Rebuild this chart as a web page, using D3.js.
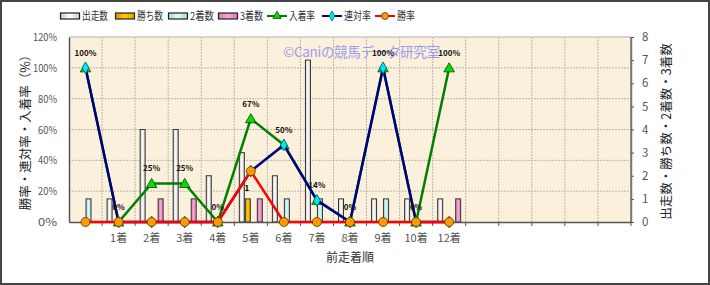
<!DOCTYPE html>
<html>
<head>
<meta charset="utf-8">
<script src="https://cdn.jsdelivr.net/npm/d3@7"></script>
<style>
  body { margin: 0; background: #fff; }
  text { font-family: "Noto Sans CJK JP", "DejaVu Sans", sans-serif; }
</style>
</head>
<body>
<script>
const width = 710;
const height = 285;

// data
const categories = ['', '1着', '2着', '3着', '4着', '5着', '6着', '7着', '8着', '9着', '10着', '12着'];
const emptySlots = ['e1', 'e2', 'e3', 'e4', 'e5'];
const starts = [0, 1, 4, 4, 2, 3, 2, 7, 1, 1, 1, 1];
const wins = [0, 0, 0, 0, 0, 1, 0, 0, 0, 0, 0, 0];
const seconds = [1, 0, 0, 0, 0, 0, 1, 1, 0, 1, 0, 0];
const thirds = [0, 0, 1, 1, 0, 1, 0, 0, 0, 0, 0, 1];
const winRate = [0, 0, 0, 0, 0, 33, 0, 0, 0, 0, 0, 0];
const rentaiRate = [100, 0, 0, 0, 0, 33, 50, 14, 0, 100, 0, 0];
const placeRate = [100, 0, 25, 25, 0, 67, 50, 14, 0, 100, 0, 100];
const leftTicks = [0, 20, 40, 60, 80, 100, 120];
const rightTicks = [0, 1, 2, 3, 4, 5, 6, 7, 8];

const plot = { left: 69, right: 631, top: 37, bottom: 222 };

const svg = d3.select('body')
              .append('svg')
              .attr('width', width)
              .attr('height', height);

const defs = svg.append('defs');
function barGradient(id, edge, mid) {
  const g = defs.append('linearGradient').attr('id', id)
                .attr('x1', '0%').attr('x2', '100%');
  g.append('stop').attr('offset', '0%').attr('stop-color', edge);
  g.append('stop').attr('offset', '50%').attr('stop-color', mid);
  g.append('stop').attr('offset', '100%').attr('stop-color', edge);
}
barGradient('gStart', '#c8c8c8', '#ffffff');
barGradient('gWin', '#d89a00', '#ffcc00');
barGradient('gSecond', '#9ed8d8', '#dffafa');
barGradient('gThird', '#d878b0', '#f8a8d8');

// outer frame
svg.append('rect')
   .attr('x', 1).attr('y', 1)
   .attr('width', width - 2).attr('height', height - 2)
   .attr('fill', '#fff')
   .attr('stroke', '#444')
   .attr('stroke-width', 2);

const x = d3.scaleBand()
            .domain(categories.concat(emptySlots))
            .range([plot.left, plot.right]);

const yRate = d3.scaleLinear().domain([0, 120]).range([plot.bottom, plot.top]);
const yCount = d3.scaleLinear().domain([0, 8]).range([plot.bottom, plot.top]);

const seriesKeys = ['start', 'win', 'second', 'third'];
const xInner = d3.scaleBand().domain(seriesKeys).range([-12, 12]);

// plot background
svg.append('rect')
   .attr('x', plot.left).attr('y', plot.top)
   .attr('width', plot.right - plot.left)
   .attr('height', plot.bottom - plot.top)
   .attr('fill', '#faf0db');

// grid
svg.append('g')
   .selectAll('line')
   .data(leftTicks.slice(1, -1))
   .join('line')
   .attr('x1', plot.left).attr('x2', plot.right)
   .attr('y1', d => yRate(d)).attr('y2', d => yRate(d))
   .attr('stroke', '#bdb5a8')
   .attr('stroke-dasharray', '2,1');

const bounds = x.domain().slice(1).map(d => x(d));
svg.append('g')
   .selectAll('line')
   .data(bounds)
   .join('line')
   .attr('x1', d => d).attr('x2', d => d)
   .attr('y1', plot.top).attr('y2', plot.bottom)
   .attr('stroke', '#bdb5a8')
   .attr('stroke-dasharray', '2,1');

// plot border
svg.append('line')
   .attr('x1', plot.left).attr('x2', plot.right)
   .attr('y1', plot.top).attr('y2', plot.top)
   .attr('stroke', '#c8c8c8').attr('stroke-width', 1.5);
svg.append('line')
   .attr('x1', plot.right).attr('x2', plot.right)
   .attr('y1', plot.top).attr('y2', plot.bottom)
   .attr('stroke', '#777').attr('stroke-width', 1.5);

// watermark
svg.append('text')
   .attr('x', 283).attr('y', 57)
   .attr('font-size', 13.5)
   .attr('fill', '#9a9cf0')
   .attr('textLength', 157)
   .text('©Caniの競馬データ研究室');

// bars
const barData = [];
categories.forEach((c, i) => {
  barData.push({ cat: c, key: 'start', v: starts[i], fill: 'url(#gStart)' });
  barData.push({ cat: c, key: 'win', v: wins[i], fill: 'url(#gWin)' });
  barData.push({ cat: c, key: 'second', v: seconds[i], fill: 'url(#gSecond)' });
  barData.push({ cat: c, key: 'third', v: thirds[i], fill: 'url(#gThird)' });
});

svg.append('g')
   .selectAll('rect')
   .data(barData.filter(d => d.v > 0))
   .join('rect')
   .attr('x', d => x(d.cat) + x.bandwidth() / 2 + xInner(d.key) + 0.5)
   .attr('y', d => yCount(d.v))
   .attr('width', xInner.bandwidth() - 1)
   .attr('height', d => yCount(0) - yCount(d.v))
   .attr('fill', d => d.fill)
   .attr('stroke', '#333')
   .attr('stroke-width', 1);

// win count labels
svg.append('g')
   .selectAll('text')
   .data(barData.filter(d => d.key === 'win' && d.v > 0))
   .join('text')
   .attr('x', d => x(d.cat) + x.bandwidth() / 2 + xInner(d.key) + xInner.bandwidth() / 2 - 1)
   .attr('y', d => yCount(d.v) - 8)
   .attr('text-anchor', 'middle')
   .attr('font-family', 'DejaVu Sans')
   .attr('font-weight', 'bold')
   .attr('font-size', 8)
   .text(d => d.v);

// axes
const leftAxis = svg.append('g')
   .attr('transform', `translate(${plot.left},0)`)
   .call(d3.axisLeft(yRate).tickValues(leftTicks).tickSize(0).tickPadding(12).tickFormat(d => d + '%'));
leftAxis.select('.domain').attr('stroke', '#555').attr('stroke-width', 1.5);

const rightAxis = svg.append('g')
   .attr('transform', `translate(${plot.right},0)`)
   .call(d3.axisRight(yCount).tickValues(rightTicks).tickSize(3).tickSizeOuter(0).tickPadding(8));
rightAxis.select('.domain').attr('stroke', '#777').attr('stroke-width', 1.5);
rightAxis.selectAll('.tick line').attr('stroke', '#555');

const bottomAxis = svg.append('g')
   .attr('transform', `translate(0,${plot.bottom})`)
   .call(d3.axisBottom(x).tickSize(0).tickPadding(12).tickFormat(d => emptySlots.includes(d) ? '' : d));
bottomAxis.select('.domain').attr('stroke', '#555').attr('stroke-width', 1.5);

svg.append('g')
   .selectAll('line')
   .data(bounds.concat([plot.right]))
   .join('line')
   .attr('x1', d => d).attr('x2', d => d)
   .attr('y1', plot.bottom).attr('y2', plot.bottom + 4)
   .attr('stroke', '#555');

svg.selectAll('.tick text')
   .attr('font-family', '"Liberation Sans", "Noto Sans CJK JP", sans-serif')
   .attr('font-size', 11.5)
   .attr('fill', '#555');
leftAxis.selectAll('.tick text')
   .attr('font-size', 11)
   .attr('textLength', d => d >= 100 ? 24 : 19)
   .attr('lengthAdjust', 'spacingAndGlyphs');
bottomAxis.selectAll('.tick text')
   .attr('font-family', '"Noto Sans CJK JP", sans-serif')
   .attr('font-size', 11);

// axis titles
svg.append('text')
   .attr('transform', `translate(27,${(plot.top + plot.bottom) / 2}) rotate(-90)`)
   .attr('text-anchor', 'middle')
   .attr('dominant-baseline', 'middle')
   .attr('font-size', 12.5)
   .attr('fill', '#222')
   .text('勝率・連対率・入着率（%）');

svg.append('text')
   .attr('transform', `translate(668,${(plot.top + plot.bottom) / 2 + 2}) rotate(-90)`)
   .attr('text-anchor', 'middle')
   .attr('dominant-baseline', 'middle')
   .attr('font-size', 12.5)
   .attr('fill', '#222')
   .text('出走数・勝ち数・2着数・3着数');

svg.append('text')
   .attr('x', (plot.left + plot.right) / 2)
   .attr('y', 262)
   .attr('text-anchor', 'middle')
   .attr('font-size', 12)
   .attr('fill', '#333')
   .text('前走着順');

// lines
const cx = (d, i) => x(categories[i]) + x.bandwidth() / 2;
const lineGen = vals => d3.line()
                          .x((d, i) => cx(d, i))
                          .y(d => yRate(d))(vals);

const triangle = d3.symbol().type(d3.symbolTriangle).size(48);
const diamond = d3.symbol().type(d3.symbolDiamond).size(40);

svg.append('path')
   .attr('d', lineGen(placeRate))
   .attr('fill', 'none').attr('stroke', '#008000').attr('stroke-width', 2.5);
svg.append('g')
   .selectAll('path')
   .data(placeRate)
   .join('path')
   .attr('d', triangle)
   .attr('transform', (d, i) => `translate(${cx(d, i)},${yRate(d) + 1})`)
   .attr('fill', '#00dd00').attr('stroke', '#004400').attr('stroke-width', 0.8);

svg.append('path')
   .attr('d', lineGen(rentaiRate))
   .attr('fill', 'none').attr('stroke', '#000080').attr('stroke-width', 2.5);
svg.append('g')
   .selectAll('path')
   .data(rentaiRate)
   .join('path')
   .attr('d', diamond)
   .attr('transform', (d, i) => `translate(${cx(d, i)},${yRate(d)})`)
   .attr('fill', '#00e8f0').attr('stroke', '#006070').attr('stroke-width', 0.8);

svg.append('path')
   .attr('d', lineGen(winRate))
   .attr('fill', 'none').attr('stroke', '#ff0000').attr('stroke-width', 2.5);
svg.append('g')
   .selectAll('circle')
   .data(winRate)
   .join('circle')
   .attr('cx', (d, i) => cx(d, i))
   .attr('cy', d => yRate(d))
   .attr('r', 4.5)
   .attr('fill', '#ff9900').attr('stroke', '#553300').attr('stroke-width', 0.8);

// place rate labels
svg.append('g')
   .selectAll('text')
   .data(placeRate)
   .join('text')
   .attr('x', (d, i) => cx(d, i))
   .attr('y', d => yRate(d) - 12)
   .attr('text-anchor', 'middle')
   .attr('font-family', 'DejaVu Sans')
   .attr('font-weight', 'bold')
   .attr('font-size', 8)
   .attr('fill', '#111')
   .text(d => d + '%');

// legend
const legendItems = [
  { name: '出走数', type: 'bar', fill: 'url(#gStart)', x: 60, w: 26 },
  { name: '勝ち数', type: 'bar', fill: 'url(#gWin)', x: 115, w: 26 },
  { name: '2着数', type: 'bar', fill: 'url(#gSecond)', x: 168, w: 24 },
  { name: '3着数', type: 'bar', fill: 'url(#gThird)', x: 218, w: 23 },
  { name: '入着率', type: 'tri', color: '#008000', mark: '#00dd00', x: 267, w: 26 },
  { name: '連対率', type: 'dia', color: '#000080', mark: '#00e8f0', x: 322, w: 27 },
  { name: '勝率', type: 'dot', color: '#ff0000', mark: '#ff9900', x: 375, w: 18 }
];
const ly = 16;
const legend = svg.append('g')
   .selectAll('g')
   .data(legendItems)
   .join('g')
   .attr('transform', d => `translate(${d.x},${ly})`);

legend.filter(d => d.type === 'bar')
      .append('rect')
      .attr('x', 0.5).attr('y', -3)
      .attr('width', 19).attr('height', 6)
      .attr('fill', d => d.fill)
      .attr('stroke', '#222').attr('stroke-width', 1.2);

legend.filter(d => d.type !== 'bar')
      .append('line')
      .attr('x1', 0).attr('x2', 20)
      .attr('stroke', d => d.color).attr('stroke-width', 2);

legend.filter(d => d.type === 'tri')
      .append('path')
      .attr('d', d3.symbol().type(d3.symbolTriangle).size(30))
      .attr('transform', 'translate(10,0)')
      .attr('fill', d => d.mark).attr('stroke', '#004400').attr('stroke-width', 0.8);
legend.filter(d => d.type === 'dia')
      .append('path')
      .attr('d', d3.symbol().type(d3.symbolDiamond).size(28))
      .attr('transform', 'translate(10,0)')
      .attr('fill', d => d.mark).attr('stroke', '#006070').attr('stroke-width', 0.8);
legend.filter(d => d.type === 'dot')
      .append('circle')
      .attr('cx', 10).attr('r', 3.5)
      .attr('fill', d => d.mark).attr('stroke', '#553300').attr('stroke-width', 0.8);

legend.append('text')
      .attr('x', 22)
      .attr('dy', '0.35em')
      .attr('font-size', 11)
      .attr('fill', '#333')
      .attr('textLength', d => d.w)
      .attr('lengthAdjust', 'spacingAndGlyphs')
      .text(d => d.name);
</script>
</body>
</html>
